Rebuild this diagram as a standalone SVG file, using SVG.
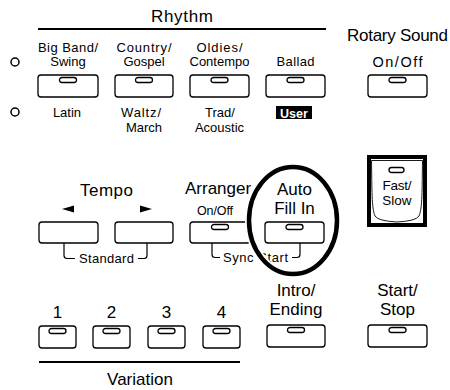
<svg xmlns="http://www.w3.org/2000/svg" width="450" height="390" viewBox="0 0 450 390">
<style>
text{font-family:"Liberation Sans",Arial,sans-serif;fill:#000}
.big{font-size:17px}
.sm{font-size:13px}
.xs{font-size:13px}
.c{text-anchor:middle}
.btn{fill:#fff;stroke:#000;stroke-width:1.3}
.led{fill:#fff;stroke:#000;stroke-width:1.3}
.ln{fill:none;stroke:#000;stroke-width:1.2}
</style>
<defs>
<rect id="led" x="-8.5" y="0" width="17" height="5" rx="2.5" class="led"/>
</defs>
<rect width="450" height="390" fill="#fff"/>

<g id="rhythm-header">
<text class="big c" x="182" y="22" textLength="62">Rhythm</text>
<line x1="38" y1="29" x2="326" y2="29" stroke="#000" stroke-width="2"/>
</g>
<g id="indicators">
<circle cx="15" cy="62" r="4" fill="none" stroke="#000" stroke-width="1.5"/>
<circle cx="15" cy="112" r="4" fill="none" stroke="#000" stroke-width="1.5"/>
</g>

<g id="bigband">
<text class="sm c" x="68" y="52" textLength="60">Big Band/</text>
<text class="sm c" x="68" y="66">Swing</text>
<rect class="btn" x="38" y="75" width="60" height="22" rx="3"/>
<use href="#led" x="68" y="77.5"/>
<text class="sm c" x="67" y="117">Latin</text>
</g>
<g id="country">
<text class="sm c" x="144" y="52" textLength="55">Country/</text>
<text class="sm c" x="144" y="66">Gospel</text>
<rect class="btn" x="115" y="75" width="58" height="22" rx="3"/>
<use href="#led" x="144" y="77.5"/>
<text class="sm c" x="141" y="117" textLength="40">Waltz/</text>
<text class="sm c" x="144" y="132">March</text>
</g>
<g id="oldies">
<text class="sm c" x="219.5" y="52" textLength="46">Oldies/</text>
<text class="sm c" x="219.5" y="66">Contempo</text>
<rect class="btn" x="190" y="75" width="59" height="22" rx="3"/>
<use href="#led" x="219.5" y="77.5"/>
<text class="sm c" x="220" y="117">Trad/</text>
<text class="sm c" x="219.5" y="132">Acoustic</text>
</g>
<g id="ballad">
<text class="sm c" x="295.5" y="66" textLength="38">Ballad</text>
<rect class="btn" x="266" y="75" width="59" height="22" rx="3"/>
<use href="#led" x="295.5" y="77.5"/>
<rect x="276" y="106" width="36" height="13" fill="#000"/>
<text class="c" x="294" y="117.5" style="font-size:12.5px;font-weight:bold;fill:#fff">User</text>
</g>
<g id="rotary">
<text class="big" x="347" y="41" textLength="101">Rotary Sound</text>
<text class="c" x="397.5" y="67" style="font-size:14.5px" textLength="50">On/Off</text>
<rect class="btn" x="368" y="75" width="59" height="22" rx="3"/>
<use href="#led" x="397.5" y="77.5"/>
</g>

<g id="tempo">
<text class="big c" x="106.5" y="196" textLength="53">Tempo</text>
<polygon points="62,209 74,205.5 74,212.5" fill="#000"/>
<polygon points="152,209 140,205.5 140,212.5" fill="#000"/>
<rect class="btn" x="39" y="222" width="59" height="21" rx="3"/>
<rect class="btn" x="115" y="222" width="58" height="21" rx="3"/>
<text class="xs c" x="106.5" y="263" textLength="55">Standard</text>
</g>
<g id="arranger">
<text class="big" x="185" y="194">Arranger</text>
<text class="c" x="215" y="215" style="font-size:12.5px" textLength="36">On/Off</text>
<rect class="btn" x="190" y="222" width="60" height="21" rx="3"/>
<use href="#led" x="220" y="224.5"/>
<text class="xs" x="223" y="262" textLength="65">Sync Start</text>
</g>
<g id="autofill">
<text class="big c" x="294.5" y="195">Auto</text>
<text class="big c" x="294.5" y="214">Fill In</text>
<rect class="btn" x="265" y="222" width="59" height="21" rx="3"/>
<use href="#led" x="294.5" y="224.5"/>
</g>
<g id="fastslow">
<rect x="369" y="157" width="56" height="68" fill="#fff" stroke="#000" stroke-width="4"/>
<path d="M371.5 160.5 H422.5 C422 190 422.5 208 419 216 Q416 221 397 222 Q378 221 375 216 C371.5 208 372 190 371.5 160.5 Z" fill="#fff" stroke="#000" stroke-width="0.9"/>
<rect x="389" y="167.5" width="15" height="5" rx="2.5" class="led"/>
<text class="c" x="397" y="190" style="font-size:13.5px" textLength="29">Fast/</text>
<text class="c" x="397" y="205" style="font-size:13.5px">Slow</text>
</g>

<g id="connectors">
<path class="ln" d="M64 243 V255.5 Q64 258.5 67 258.5 H75"/>
<path class="ln" d="M147 243 V255.5 Q147 258.5 144 258.5 H138"/>
<path class="ln" d="M212 243 V254.5 Q212 257.5 215 257.5 H220"/>
<path class="ln" d="M300 243 V254.5 Q300 257.5 297 257.5 H292"/>
</g>

<g id="highlight">
<ellipse cx="293" cy="220.5" rx="44" ry="53.5" fill="none" stroke="#fff" stroke-width="8"/>
<ellipse cx="293" cy="220.5" rx="44" ry="53.5" fill="none" stroke="#000" stroke-width="4.5"/>
</g>

<g id="variation">
<text class="big c" x="57.5" y="318">1</text>
<text class="big c" x="111.5" y="318">2</text>
<text class="big c" x="166.5" y="318">3</text>
<text class="big c" x="221.5" y="318">4</text>
<rect class="btn" x="39" y="326" width="37" height="22" rx="3"/>
<rect class="btn" x="93" y="326" width="37" height="22" rx="3"/>
<rect class="btn" x="148" y="326" width="37" height="22" rx="3"/>
<rect class="btn" x="203" y="326" width="37" height="22" rx="3"/>
<use href="#led" x="57.5" y="328.5"/>
<use href="#led" x="111.5" y="328.5"/>
<use href="#led" x="166.5" y="328.5"/>
<use href="#led" x="221.5" y="328.5"/>
<line x1="39" y1="362" x2="240" y2="362" stroke="#000" stroke-width="2"/>
<text class="big c" x="140" y="385">Variation</text>
</g>
<g id="intro">
<text class="big c" x="296" y="296">Intro/</text>
<text class="big c" x="296" y="315">Ending</text>
<rect class="btn" x="267" y="325" width="58" height="22" rx="3"/>
<use href="#led" x="296" y="327.5"/>
</g>
<g id="startstop">
<text class="big c" x="397.5" y="296">Start/</text>
<text class="big c" x="397.5" y="315">Stop</text>
<rect class="btn" x="368" y="325" width="59" height="22" rx="3"/>
<use href="#led" x="397.5" y="327.5"/>
</g>
</svg>
